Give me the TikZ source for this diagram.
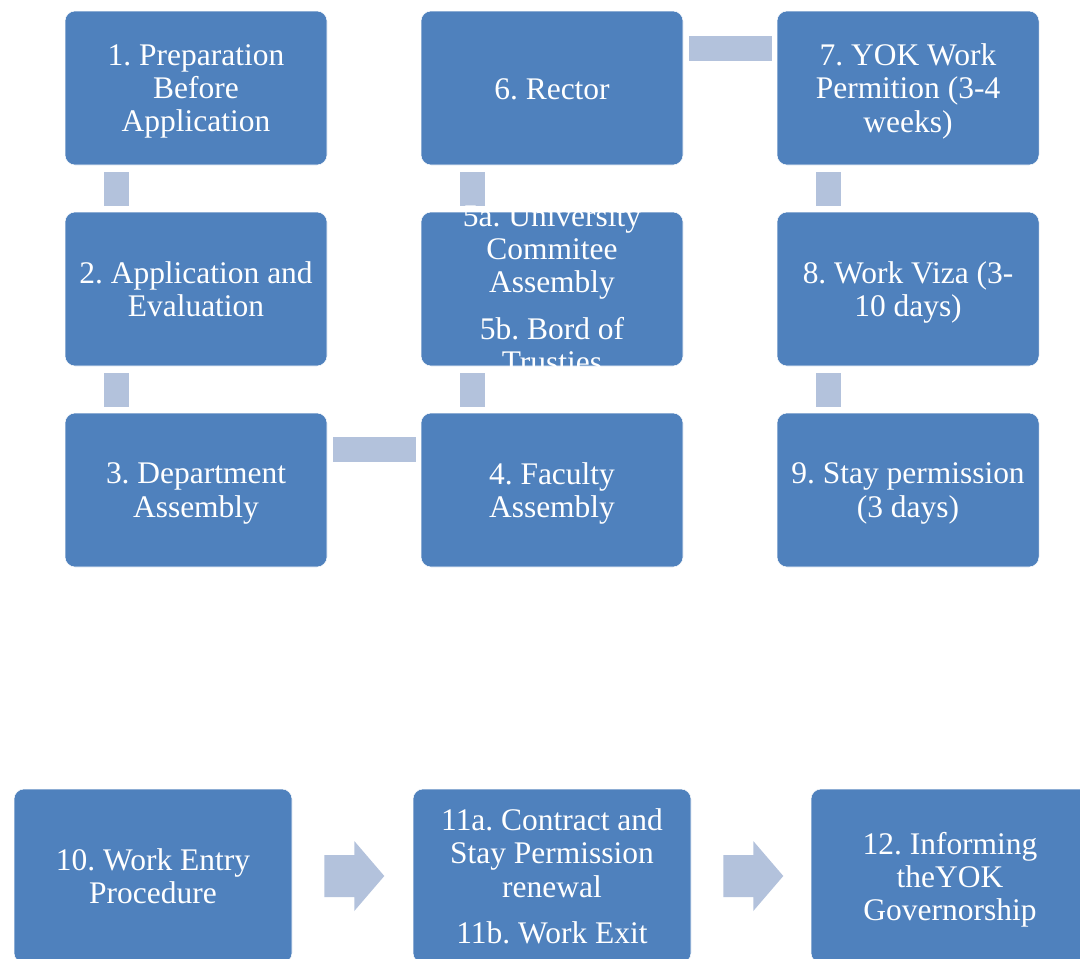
\documentclass[tikz,border=0pt]{standalone}
\usepackage{fontspec}
\setmainfont{Liberation Serif}
\usetikzlibrary{calc,backgrounds}
\definecolor{boxblue}{RGB}{79,129,189}
\definecolor{linkblue}{RGB}{179,194,220}
\tikzset{
  stepbox/.style={rectangle, rounded corners=7.5pt, fill=boxblue, draw=white,
    line width=0.4pt, minimum width=196.5pt, minimum height=115.5pt,
    inner sep=0pt},
  widebox/.style={stepbox, minimum width=208.5pt, minimum height=130.5pt},
  steptext/.style={text=white, align=center, inner sep=0pt, yshift=-3.75pt,
    font=\frenchspacing\fontsize{23.6}{24.8}\selectfont,
    execute at begin node=\strut, execute at end node=\strut},
  link/.style={fill=linkblue},
}
\begin{document}
\begin{tikzpicture}[x=0.75pt,y=-0.75pt]
\clip (0,0) rectangle (1080,958);
\useasboundingbox (0,0) rectangle (1080,958);

% upper grid of steps
\node[stepbox] (s1) at (196,88) {};
\node[stepbox] (s2) at (196,289) {};
\node[stepbox] (s3) at (196,490) {};
\node[stepbox] (s4) at (552,490) {};
\node[stepbox] (s5) at (552,289) {};
\node[stepbox] (s6) at (552,88) {};
\node[stepbox] (s7) at (908,88) {};
\node[stepbox] (s8) at (908,289) {};
\node[stepbox] (s9) at (908,490) {};

% lower row of steps
\node[widebox] (s10) at (153,876) {};
\node[widebox] (s11) at (552,876) {};
\node[widebox] (s12) at (950,876) {};

% step labels
\node[steptext] (t1) at (s1) {1. Preparation\\Before\\Application};
\node[steptext] (t2) at (s2) {2. Application and\\Evaluation};
\node[steptext] (t3) at (s3) {3. Department\\Assembly};
\node[steptext] (t4) at (s4) {4. Faculty\\Assembly};
\node[steptext] (t5) at (s5) {5a. University\\Commitee\\Assembly\\[9.75pt]5b. Bord of\\Trusties};
\node[steptext] (t6) at (s6) {6. Rector};
\node[steptext] (t7) at (s7) {7. YOK Work\\Permition (3-4\\weeks)};
\node[steptext] (t8) at (s8) {8. Work Viza (3-\\10 days)};
\node[steptext] (t9) at (s9) {9. Stay permission\\(3 days)};
\node[steptext] (t10) at (s10) {10. Work Entry\\Procedure};
\node[steptext] (t11) at (s11) {11a. Contract and\\Stay Permission\\renewal\\[9.75pt]11b. Work Exit};
\node[steptext] (t12) at (s12) {12. Informing\\theYOK\\Governorship};

\begin{scope}[on background layer]
  \fill[white] (0,0) rectangle (1080,958);
  % vertical links
  \fill[link] ($(s1.south west)+(39,7)$) rectangle ($(s2.north west)+(64,-6)$);
  \fill[link] ($(s2.south west)+(39,7)$) rectangle ($(s3.north west)+(64,-6)$);
  \fill[link] ($(s4.north west)+(39,-6)$) rectangle ($(s5.south west)+(64,7)$);
  \fill[link] ($(s5.north west)+(39,-6)$) rectangle ($(s6.south west)+(64,7)$);
  \fill[link] ($(s7.south west)+(39,7)$) rectangle ($(s8.north west)+(64,-6)$);
  \fill[link] ($(s8.south west)+(39,7)$) rectangle ($(s9.north west)+(64,-6)$);
  % horizontal links
  \fill[link] ($(s3.north east)+(6,24)$) rectangle ($(s4.north west)+(-5,49)$);
  \fill[link] ($(s6.north east)+(6,25)$) rectangle ($(s7.north west)+(-5,50)$);
\end{scope}

% block arrows of the lower row
\coordinate (a1) at ($(s10.east)+(32,0)$);
\coordinate (a2) at ($(s11.east)+(32,0)$);
\foreach \a in {a1,a2}{
  \fill[link] (\a) ++(0,-21) -- ++(30,0) -- ++(0,-14) -- ++(30,35)
     -- ++(-30,35) -- ++(0,-14) -- ++(-30,0) -- cycle;
}
\end{tikzpicture}
\end{document}
